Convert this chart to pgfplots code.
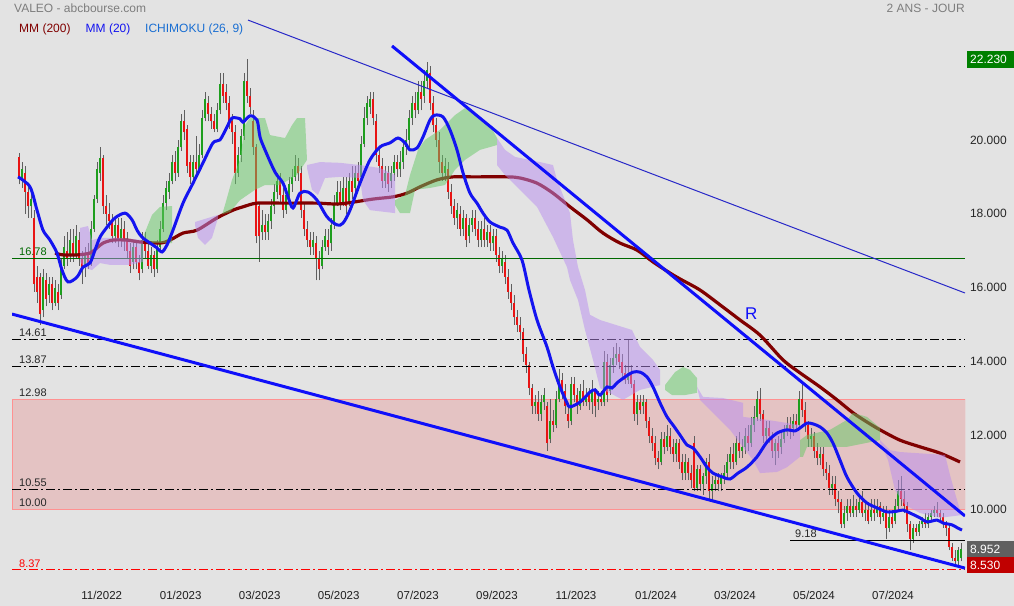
\documentclass[border=0pt]{standalone}
\usepackage{pgfplots}
\pgfplotsset{compat=1.18}
\usepackage{pgfplotstable}
\usepackage{fontspec}
\setmainfont{Liberation Sans}

\definecolor{bg}{RGB}{227,227,227}
\definecolor{cgreen}{RGB}{30,158,30}
\definecolor{cred}{RGB}{232,20,20}
\definecolor{wick}{RGB}{95,95,95}
\definecolor{mmlong}{RGB}{128,0,0}
\definecolor{mmshort}{RGB}{20,20,240}
\definecolor{trend}{RGB}{15,15,250}
\definecolor{thinblue}{RGB}{40,40,200}
\definecolor{kumo1}{RGB}{100,200,100}
\definecolor{kumo2}{RGB}{185,140,240}
\definecolor{zone}{RGB}{230,165,165}
\definecolor{zoneedge}{RGB}{255,145,145}
\definecolor{lvlgreen}{RGB}{0,105,0}
\definecolor{txtgray}{RGB}{125,125,125}
\definecolor{ichi}{RGB}{25,110,210}
\definecolor{boxgreen}{RGB}{0,128,0}
\definecolor{boxgray}{RGB}{96,96,96}
\definecolor{boxred}{RGB}{192,0,0}

\newcommand\fs[1]{\fontsize{#1bp}{#1bp}\selectfont}

% daily candles, x = position along the time axis
\pgfplotstableread{
x o h l c
19 19.55 19.65 18.80 18.95
22 18.90 19.40 18.70 19.20
25 19.10 19.30 18.00 18.60
28 18.60 18.80 17.90 18.20
31 18.20 18.60 17.90 18.40
34 17.90 18.10 15.90 16.10
37 16.30 16.60 15.60 15.90
40 16.30 16.40 15.00 15.30
43 15.40 16.50 15.20 16.30
46 16.20 16.40 15.50 15.70
49 15.80 16.30 15.60 16.10
52 16.10 16.30 15.40 15.60
55 15.60 16.20 15.50 16.00
58 15.90 16.10 15.40 15.60
61 15.80 16.80 15.70 16.60
64 16.60 17.40 16.50 17.10
67 17.00 17.50 16.60 16.80
70 16.90 17.60 16.70 17.30
73 17.20 17.60 16.70 16.90
76 16.90 17.70 16.80 17.40
79 17.30 17.50 16.60 16.80
82 16.80 17.00 16.10 16.50
85 16.60 17.10 16.30 16.90
88 16.90 17.20 16.50 16.60
91 16.70 17.80 16.60 17.60
94 17.60 18.50 17.50 18.40
97 18.40 19.40 18.30 19.20
100 19.10 19.80 18.90 19.50
103 19.50 19.60 18.00 18.20
106 18.20 18.50 17.70 18.00
109 18.00 18.30 17.60 17.80
112 17.80 18.00 17.20 17.40
115 17.40 17.90 17.20 17.70
118 17.70 17.90 17.10 17.30
121 17.30 17.90 17.10 17.60
124 17.60 17.80 17.00 17.30
127 17.30 17.50 16.80 17.00
130 17.00 17.20 16.40 16.60
133 16.70 17.30 16.50 17.10
136 17.10 17.20 16.50 16.70
139 16.70 16.90 16.20 16.40
142 16.50 17.50 16.40 17.30
145 17.30 17.50 16.80 17.00
148 17.00 17.20 16.50 16.60
151 16.60 17.10 16.40 16.90
154 16.90 17.00 16.30 16.50
157 16.50 17.30 16.40 17.10
160 17.10 17.80 17.00 17.60
163 17.60 18.50 17.50 18.30
166 18.30 18.90 18.10 18.70
169 18.60 19.10 18.40 18.90
172 18.90 19.60 18.80 19.40
175 19.40 19.70 18.90 19.10
178 19.10 20.00 19.00 19.80
181 19.80 20.70 19.70 20.50
184 20.50 20.80 20.00 20.20
187 20.30 20.40 19.10 19.30
190 19.40 19.60 18.80 19.00
193 19.00 19.60 18.90 19.40
196 19.40 20.10 19.00 19.20
199 19.20 19.90 19.10 19.60
202 19.60 20.80 19.50 20.60
205 20.60 21.30 20.50 21.10
208 21.00 21.20 20.50 20.70
211 20.70 20.90 20.30 20.50
214 20.50 20.70 20.20 20.30
217 20.30 21.00 20.20 20.80
220 20.80 21.80 20.70 21.50
223 21.50 21.80 21.00 21.20
226 21.30 21.50 20.80 21.00
229 21.00 21.20 20.30 20.50
232 20.50 20.70 19.90 20.20
235 20.20 20.40 18.80 19.10
238 19.10 19.80 19.00 19.60
241 19.60 20.30 19.40 20.10
244 20.10 21.80 20.00 21.60
247 21.60 22.20 21.00 21.20
250 21.20 21.40 20.70 20.90
253 20.50 20.80 19.60 19.80
256 19.80 19.90 17.20 17.40
259 18.20 18.30 16.70 17.40
262 17.50 18.10 17.30 17.70
265 17.70 18.00 17.30 17.50
268 17.50 18.00 17.30 17.80
271 17.80 18.40 17.60 18.20
274 18.20 18.80 18.00 18.60
277 18.60 19.10 18.40 18.90
280 18.90 19.10 18.30 18.50
283 18.50 18.70 17.90 18.10
286 18.10 18.70 18.00 18.50
289 18.50 19.00 18.30 18.80
292 18.80 19.20 18.60 19.00
295 19.00 19.60 18.90 19.30
298 19.30 19.50 18.90 19.10
301 19.10 19.30 17.90 18.10
304 18.10 18.30 17.40 17.60
307 17.60 17.80 17.10 17.30
310 17.30 17.50 16.90 17.10
313 17.10 17.50 16.90 17.30
316 17.20 17.40 16.20 16.80
319 16.80 17.00 16.20 16.50
322 16.60 17.30 16.50 17.10
325 17.10 17.60 17.00 17.40
328 17.30 17.60 16.90 17.10
331 17.20 17.90 17.00 17.70
334 17.70 18.50 17.60 18.30
337 18.30 18.90 18.20 18.60
340 18.60 18.90 18.10 18.30
343 18.30 19.00 18.20 18.70
346 18.70 19.00 18.00 18.20
349 18.30 19.10 18.20 18.90
352 18.90 19.30 18.40 18.60
355 18.70 19.30 18.50 19.10
358 19.10 19.40 18.70 18.90
361 19.00 20.10 18.90 19.90
364 19.90 20.90 19.80 20.60
367 20.60 21.20 20.40 21.00
370 20.90 21.30 20.70 21.10
373 21.10 21.30 20.40 20.60
376 20.50 20.70 19.40 19.60
379 19.60 19.80 19.10 19.30
382 19.30 19.50 18.70 18.90
385 18.90 19.30 18.70 19.10
388 19.10 19.30 18.60 18.80
391 18.90 19.30 18.70 19.10
394 19.10 19.60 18.90 19.40
397 19.40 19.60 19.00 19.20
400 19.20 19.70 19.00 19.40
403 19.40 20.00 19.20 19.80
406 19.80 20.30 19.60 20.00
409 20.00 20.80 19.80 20.60
412 20.60 21.20 20.40 21.00
415 21.00 21.30 20.60 20.80
418 20.80 21.60 20.70 21.30
421 21.30 21.60 20.80 21.10
424 21.20 21.90 21.00 21.60
427 21.60 22.10 21.40 21.90
430 21.80 22.00 20.80 21.00
433 21.00 21.20 20.20 20.40
436 20.40 20.60 19.80 20.00
439 20.00 20.20 19.10 19.40
442 19.40 19.60 18.90 19.10
445 19.10 19.50 18.90 19.30
448 19.20 19.40 18.40 18.60
451 18.60 18.80 18.00 18.20
454 18.20 18.40 17.70 17.90
457 17.90 18.30 17.60 18.10
460 18.00 18.20 17.40 17.60
463 17.60 18.10 17.40 17.90
466 17.90 18.00 17.10 17.30
469 17.40 17.90 17.20 17.70
472 17.70 18.10 17.50 17.90
475 17.90 18.10 17.40 17.60
478 17.60 17.80 17.10 17.30
481 17.30 17.80 17.10 17.60
484 17.60 17.90 17.10 17.30
487 17.30 17.70 17.10 17.50
490 17.50 17.70 17.00 17.20
493 17.20 17.60 17.00 17.40
496 17.40 17.60 16.70 16.90
499 16.90 17.10 16.40 16.60
502 16.60 17.00 16.40 16.80
505 16.70 16.90 16.10 16.30
508 16.30 16.50 15.70 15.90
511 15.90 16.10 15.40 15.60
514 15.60 15.80 15.00 15.20
517 15.20 15.40 14.80 15.00
520 15.00 15.20 14.60 14.80
523 14.80 14.90 14.00 14.20
526 14.20 14.40 13.70 13.90
529 13.90 14.00 13.10 13.30
532 13.30 13.40 12.60 12.80
535 12.80 13.10 12.60 12.90
538 12.90 13.20 12.40 12.60
541 12.60 13.10 12.40 12.90
544 12.90 13.30 12.70 13.10
547 12.80 12.90 11.60 11.80
550 11.90 13.00 11.80 12.40
553 12.40 12.70 12.10 12.30
556 12.30 13.20 12.20 13.00
559 13.00 13.80 12.90 13.50
562 13.50 13.70 13.00 13.20
565 13.20 13.40 12.60 12.80
568 12.60 12.80 12.20 12.40
571 12.40 13.60 12.30 13.40
574 13.40 13.60 12.90 13.10
577 13.10 13.30 12.60 12.80
580 12.80 13.40 12.70 13.20
583 13.20 13.50 12.80 12.90
586 12.90 13.30 12.80 13.10
589 13.10 13.30 12.70 12.90
592 12.90 13.50 12.60 13.20
595 13.20 13.30 12.50 12.80
598 12.90 13.20 12.70 13.00
601 13.00 13.20 12.80 12.90
604 12.90 14.30 12.80 14.00
607 14.00 14.20 12.90 13.10
610 13.20 14.10 13.10 13.90
613 13.90 14.40 13.70 14.10
616 14.10 14.50 13.90 14.20
619 14.20 14.40 13.80 14.00
622 14.00 14.20 13.50 13.70
625 13.70 13.90 13.40 13.50
628 13.50 14.60 13.40 13.70
631 13.70 13.90 13.30 13.40
634 13.40 13.50 12.40 12.60
637 12.60 13.10 12.30 12.90
640 12.90 13.10 12.60 12.70
643 12.80 13.10 12.60 12.90
646 12.90 13.00 12.20 12.40
649 12.40 12.50 11.80 12.00
652 12.00 12.20 11.60 11.80
655 11.80 12.00 11.20 11.40
658 11.40 11.60 11.10 11.30
661 11.30 12.10 11.20 11.90
664 11.90 12.10 11.50 11.70
667 11.70 12.30 11.60 12.00
670 12.00 12.20 11.50 11.70
673 11.70 11.90 11.30 11.50
676 11.50 11.90 11.30 11.80
679 11.80 11.90 11.10 11.30
682 11.30 11.50 10.80 11.00
685 11.00 11.50 10.80 11.30
688 11.30 11.40 10.80 11.00
691 11.00 11.20 10.60 10.80
694 11.80 12.00 10.50 10.60
697 10.60 11.20 10.50 11.10
700 11.10 11.20 10.50 10.70
703 10.70 11.00 10.40 10.90
706 10.90 11.40 10.70 11.30
709 11.30 11.50 10.30 10.50
712 10.50 10.90 10.20 10.70
715 10.70 10.90 10.50 10.80
718 10.80 11.00 10.50 10.70
721 10.70 11.00 10.50 10.90
724 10.90 11.20 10.70 11.00
727 11.00 11.50 10.80 11.30
730 11.30 11.70 11.10 11.50
733 11.50 11.80 11.10 11.30
736 11.30 12.00 11.20 11.80
739 11.80 12.10 11.40 11.60
742 11.60 11.90 11.40 11.70
745 11.70 12.20 11.50 12.00
748 12.00 12.30 11.60 11.80
751 11.80 12.50 11.70 12.30
754 12.30 12.80 12.10 12.50
757 12.50 13.20 12.40 13.00
760 13.00 13.30 12.40 12.60
763 12.60 12.70 11.80 12.00
766 12.00 12.40 11.80 12.20
769 12.20 12.40 11.80 12.00
772 12.00 12.10 11.40 11.60
775 11.60 11.90 11.20 11.80
778 11.80 12.00 11.40 11.60
781 11.70 12.10 11.50 11.90
784 11.90 12.30 11.80 12.10
787 12.10 12.50 12.00 12.30
790 12.30 12.50 11.90 12.10
793 12.20 12.60 12.00 12.40
796 12.40 12.60 12.10 12.30
799 12.30 13.20 12.20 13.00
802 13.00 13.40 12.50 12.70
805 12.70 12.90 12.10 12.30
808 12.30 12.40 11.70 11.90
811 11.90 12.20 11.70 12.00
814 12.00 12.10 11.40 11.60
817 11.60 11.80 11.20 11.40
820 11.40 11.70 11.20 11.50
823 11.50 11.70 10.90 11.10
826 11.10 11.30 10.80 11.00
829 11.00 11.20 10.40 10.60
832 10.60 10.90 10.40 10.70
835 10.70 10.90 10.10 10.30
838 10.30 10.50 9.90 10.20
841 10.20 10.30 9.50 9.60
844 9.60 10.10 9.50 9.90
847 9.90 10.30 9.70 10.10
850 10.10 10.30 9.80 9.90
853 9.90 10.40 9.80 10.10
856 10.10 10.30 9.80 10.00
859 10.00 10.40 9.90 10.20
862 10.20 10.50 9.80 9.90
865 9.90 10.20 9.70 10.00
868 10.00 10.20 9.60 9.70
871 9.80 10.30 9.70 10.00
874 10.00 10.30 9.70 9.90
877 9.90 10.30 9.80 10.10
880 10.10 10.20 9.60 9.80
883 9.80 10.10 9.70 9.90
886 9.90 10.10 9.20 9.50
889 9.50 10.00 9.40 9.80
892 9.80 10.00 9.50 9.60
895 9.70 10.30 9.60 10.10
898 10.10 10.80 10.00 10.50
901 10.50 10.90 10.10 10.30
904 10.30 10.50 9.90 10.10
907 10.10 10.20 9.40 9.60
910 9.60 9.70 8.90 9.20
913 9.20 9.60 9.10 9.50
916 9.50 9.60 9.30 9.40
919 9.40 9.70 9.30 9.60
922 9.60 9.80 9.50 9.70
925 9.70 9.90 9.50 9.60
928 9.60 9.90 9.50 9.80
931 9.80 10.00 9.70 9.90
934 9.90 10.10 9.80 10.00
937 10.00 10.20 9.80 9.90
940 9.90 10.00 9.70 9.80
943 9.80 9.90 9.50 9.60
946 9.60 9.70 9.30 9.50
949 9.50 9.60 8.90 9.00
952 9.00 9.10 8.60 8.70
955 8.70 8.90 8.50 8.60
958 8.60 9.00 8.50 8.90
961 8.70 9.10 8.60 8.95
}\candles

\begin{document}
\begin{tikzpicture}
\fill[bg] (0,0) rectangle (1014bp,606bp);
\path[use as bounding box] (0,0) rectangle (1014bp,606bp);
\begin{axis}[
    at={(12bp,23bp)}, anchor=south west,
    scale only axis, width=953bp, height=583bp,
    xmin=12, xmax=965, ymin=8.018, ymax=23.783,
    axis line style={draw=none},
    major tick style={draw=none},
    xtick={101.7,180.7,259.7,338.7,418,497,576,656,735,814,893},
    xticklabels={11/2022,01/2023,03/2023,05/2023,07/2023,09/2023,11/2023,01/2024,03/2024,05/2024,07/2024},
    x tick label style={font=\fs{11.5}, text=black!88, yshift=-4.5bp},
    ytick={8,10,12,14,16,18,20},
    yticklabel pos=right,
    y tick label style={font=\fs{12}, text=black!85, anchor=west, xshift=1.5bp},
    /pgf/number format/.cd, fixed, fixed zerofill, precision=3, 1000 sep={}, assume math mode=true,
]

% support / resistance zone
\addplot[draw=zoneedge, line width=1bp, fill=zone, fill opacity=0.5]
  coordinates {(12,10) (965,10) (965,12.98) (12,12.98)} -- cycle;

% candles: wicks, then rising and falling bodies
\addplot[forget plot, draw=none, mark=none,
  error bars/.cd, y dir=plus, y explicit, error mark=none,
  error bar style={draw=wick, line width=0.9bp}]
  table[x=x, y=l, y error plus expr=\thisrow{h}-\thisrow{l}] {\candles};
\addplot[forget plot, draw=none, mark=none,
  restrict expr to domain={\thisrow{c}-\thisrow{o}}{0:100},
  error bars/.cd, y dir=plus, y explicit, error mark=none,
  error bar style={draw=cgreen, line width=2.5bp}]
  table[x=x, y=o, y error plus expr=\thisrow{c}-\thisrow{o}] {\candles};
\addplot[forget plot, draw=none, mark=none,
  restrict expr to domain={\thisrow{o}-\thisrow{c}}{0.001:100},
  error bars/.cd, y dir=plus, y explicit, error mark=none,
  error bar style={draw=cred, line width=2.5bp}]
  table[x=x, y=c, y error plus expr=\thisrow{o}-\thisrow{c}] {\candles};

% horizontal levels
\addplot[lvlgreen, line width=1bp] coordinates {(12,16.78) (965,16.78)};
\addplot[black, line width=1bp, dash pattern=on 9bp off 3bp on 2bp off 3bp] coordinates {(12,14.61) (965,14.61)};
\addplot[black, line width=1bp, dash pattern=on 9bp off 3bp on 2bp off 3bp] coordinates {(12,13.87) (965,13.87)};
\addplot[black, line width=1bp, dash pattern=on 9bp off 3bp on 2bp off 3bp] coordinates {(12,10.55) (965,10.55)};
\addplot[red, line width=1bp, dash pattern=on 9bp off 3bp on 2bp off 3bp] coordinates {(12,8.37) (965,8.37)};
\addplot[black, line width=1bp] coordinates {(790,9.18) (965,9.18)};

% MM 200
\addplot[mmlong, line width=3.2bp, smooth] coordinates {
(55,16.94)(63,16.89)(77,16.89)(90,16.94)(97,17.08)(103,17.21)(113,17.29)(127,17.29)
(140,17.24)(160,17.21)(170,17.29)(183,17.48)(197,17.56)(217,17.89)(233,18.10)(243,18.19)
(257,18.29)(283,18.29)(317,18.29)(340,18.27)(373,18.40)(393,18.46)(407,18.56)(420,18.73)
(437,18.92)(453,19.00)(473,19.00)(507,19.00)(520,18.97)(537,18.83)(553,18.56)(570,18.19)
(587,17.84)(603,17.48)(620,17.21)(637,17.02)(653,16.70)(670,16.40)(680,16.24)(700,15.94)
(720,15.54)(740,15.13)(760,14.72)(783,14.05)(800,13.70)(820,13.32)(837,12.97)(853,12.62)
(867,12.37)(880,12.16)(900,11.88)(920,11.70)(940,11.53)(960,11.29)};

% Ichimoku cloud
\addplot[draw=none, fill=kumo2, fill opacity=0.5] coordinates {
(80,17.62)(88,17.67)(92,17.29)(100,17.35)(120,17.35)(143,17.29)(143,16.70)(130,16.62)
(110,16.62)(100,16.67)(92,16.48)(85,16.54)(80,16.70)} -- cycle;
\addplot[draw=none, fill=kumo1, fill opacity=0.5] coordinates {
(143,17.37)(152,17.97)(160,18.19)(172,18.21)(172,17.21)(150,17.21)(143,17.29)} -- cycle;
\addplot[draw=none, fill=kumo2, fill opacity=0.5] coordinates {
(195,17.78)(218,17.97)(218,17.89)(212,17.35)(205,17.16)(198,17.35)(195,17.70)} -- cycle;
\addplot[draw=none, fill=kumo1, fill opacity=0.5] coordinates {
(222,17.97)(225,18.24)(232,18.92)(240,19.46)(245,20.40)(250,20.59)(265,20.59)(270,20.13)
(285,20.05)(292,20.40)(297,20.59)(305,20.59)(307,19.46)(297,19.05)(280,18.78)(265,18.78)
(255,18.65)(240,18.37)(230,18.05)(222,17.99)} -- cycle;
\addplot[draw=none, fill=kumo2, fill opacity=0.5] coordinates {
(307,19.32)(320,19.40)(340,19.38)(360,19.32)(380,19.24)(395,19.05)(395,18.02)(370,18.10)
(363,18.37)(360,18.97)(340,19.00)(325,18.97)(318,18.51)(312,18.65)(307,19.24)} -- cycle;
\addplot[draw=none, fill=kumo1, fill opacity=0.5] coordinates {
(395,18.37)(405,18.51)(410,19.05)(418,19.73)(425,20.00)(440,20.27)(455,20.67)(465,20.86)
(478,20.67)(490,20.40)(497,20.05)(497,19.86)(480,19.73)(465,19.46)(455,19.19)(445,18.78)
(430,18.70)(415,18.65)(410,18.02)(400,18.02)(395,18.24)} -- cycle;
\addplot[draw=none, fill=kumo2, fill opacity=0.5] coordinates {
(497,20.05)(505,19.73)(515,19.54)(540,19.40)(553,19.32)(557,18.92)(565,18.37)(570,18.02)
(573,17.29)(578,16.56)(585,15.94)(590,15.27)(600,15.13)(632,14.86)(640,14.40)(653,14.05)
(660,13.78)(660,13.37)(640,13.24)(623,12.97)(600,13.29)(593,14.05)(585,14.86)(578,15.67)
(570,16.21)(567,16.56)(553,17.37)(537,18.19)(520,18.65)(505,19.05)(497,19.32)} -- cycle;
\addplot[draw=none, fill=kumo1, fill opacity=0.5] coordinates {
(665,13.37)(675,13.72)(683,13.86)(690,13.78)(697,13.56)(697,13.16)(685,13.10)(672,13.10)
(665,13.24)} -- cycle;
\addplot[draw=none, fill=kumo2, fill opacity=0.5] coordinates {
(697,13.32)(703,13.05)(723,13.02)(743,12.89)(743,12.51)(767,12.43)(800,12.29)(800,11.43)
(787,11.15)(777,11.02)(760,10.99)(753,11.34)(740,11.80)(730,12.16)(713,12.62)(700,12.97)} -- cycle;
\addplot[draw=none, fill=kumo1, fill opacity=0.5] coordinates {
(800,11.88)(807,12.02)(830,12.16)(847,12.43)(853,12.62)(867,12.51)(880,12.21)(880,11.88)
(847,11.70)(807,11.70)(803,11.43)(800,11.43)} -- cycle;
\addplot[draw=none, fill=kumo2, fill opacity=0.5] coordinates {
(880,11.88)(890,11.61)(900,11.56)(945,11.48)(950,10.94)(955,10.45)(960,9.99)(963,9.86)
(940,9.78)(920,9.91)(905,10.13)(895,10.53)(888,11.34)(880,11.83)} -- cycle;

% MM 20
\addplot[mmshort, line width=3bp, smooth] coordinates {
(18,19.00)(30,18.73)(37,18.10)(43,17.56)(50,17.29)(57,16.94)(62,16.48)(68,16.16)(77,16.29)
(83,16.56)(90,16.67)(95,17.02)(100,17.37)(107,17.64)(115,17.89)(125,18.02)(132,17.84)
(137,17.56)(142,17.37)(150,17.21)(157,17.08)(162,16.97)(167,17.16)(173,17.56)(183,18.29)
(193,18.83)(203,19.38)(213,19.92)(220,20.00)(227,20.35)(232,20.59)(240,20.57)(243,20.48)
(250,20.65)(257,20.54)(260,20.08)(265,19.73)(275,19.13)(283,18.83)(288,18.46)(293,18.16)
(300,18.56)(308,18.59)(317,18.37)(327,17.92)(337,17.70)(343,17.75)(350,18.10)(360,18.83)
(370,19.46)(380,19.81)(390,19.92)(398,20.05)(405,19.92)(410,19.73)(417,19.78)(423,20.08)
(430,20.54)(435,20.67)(443,20.62)(450,20.27)(457,19.73)(463,19.11)(470,18.56)(477,18.29)
(483,18.02)(490,17.78)(500,17.64)(507,17.56)(513,17.21)(522,16.75)(529,15.94)(537,15.13)
(547,14.40)(553,13.86)(560,13.32)(567,12.89)(570,12.78)(580,12.91)(590,13.18)(595,13.24)
(600,13.10)(607,13.32)(612,13.29)(617,13.43)(625,13.59)(633,13.72)(640,13.72)(647,13.59)
(653,13.32)(660,12.89)(667,12.51)(673,12.29)(680,12.02)(687,11.75)(693,11.67)(700,11.43)
(707,11.15)(713,10.99)(723,10.88)(730,10.83)(738,10.99)(747,11.15)(757,11.43)(767,11.83)
(777,12.07)(787,12.16)(795,12.13)(800,12.21)(807,12.34)(813,12.32)(820,12.24)(827,12.07)
(833,11.80)(840,11.34)(847,10.88)(857,10.45)(867,10.18)(877,10.05)(887,9.94)(897,9.96)
(903,9.99)(910,9.91)(920,9.78)(927,9.67)(937,9.72)(943,9.64)(952,9.59)(958,9.50)(962,9.45)};

% trend lines
\addplot[thinblue, line width=1bp] coordinates {(248,23.24) (965,15.86)};
\addplot[trend, line width=3bp] coordinates {(392,22.54) (965,9.83)};
\addplot[trend, line width=3bp] coordinates {(12,15.29) (965,8.42)};

% level labels
\node[anchor=base west, inner sep=0, text=lvlgreen, font=\fs{11}, yshift=3bp] at (axis cs:19,16.78) {16.78};
\node[anchor=base west, inner sep=0, text=black!85, font=\fs{11}, yshift=3bp] at (axis cs:19,14.61) {14.61};
\node[anchor=base west, inner sep=0, text=black!85, font=\fs{11}, yshift=3bp] at (axis cs:19,13.87) {13.87};
\node[anchor=base west, inner sep=0, text=black!85, font=\fs{11}, yshift=3bp] at (axis cs:19,12.98) {12.98};
\node[anchor=base west, inner sep=0, text=black!85, font=\fs{11}, yshift=3bp] at (axis cs:19,10.55) {10.55};
\node[anchor=base west, inner sep=0, text=black!85, font=\fs{11}, yshift=3bp] at (axis cs:19,10) {10.00};
\node[anchor=base west, inner sep=0, text=red, font=\fs{11}, yshift=2bp] at (axis cs:19,8.37) {8.37};
\node[anchor=base west, inner sep=0, text=black!85, font=\fs{11}, yshift=3bp] at (axis cs:795,9.18) {9.18};
\node[anchor=base west, inner sep=0, text=trend, font=\fs{17}] at (axis cs:745,15.13) {R};
\end{axis}

% hide the clipped part of the lowest price label
\fill[bg] (965bp,0) rectangle (1014bp,24bp);

% header and legend
\node[anchor=base west, inner sep=0, text=txtgray, font=\fs{12}] at (14bp,593bp) {VALEO - abcbourse.com};
\node[anchor=base west, inner sep=0, text=txtgray, font=\fs{12}] at (886.5bp,593bp) {2 ANS - JOUR};
\node[anchor=base west, inner sep=0, text=mmlong, font=\fs{12}] at (19bp,573bp) {MM (200)};
\node[anchor=base west, inner sep=0, text=mmshort, font=\fs{12}] at (85.5bp,573bp) {MM (20)};
\node[anchor=base west, inner sep=0, text=ichi, font=\fs{12}] at (145bp,573bp) {ICHIMOKU (26, 9)};

% price tags on the right
\fill[boxgreen] (967bp,538bp) rectangle (1014bp,555bp);
\node[anchor=west, inner sep=0, text=white, font=\fs{12}] at (970bp,546.5bp) {22.230};
\fill[boxgray] (967bp,49bp) rectangle (1014bp,65bp);
\node[anchor=west, inner sep=0, text=white, font=\fs{12}] at (970bp,57bp) {8.952};
\fill[boxred] (967bp,33bp) rectangle (1014bp,49bp);
\node[anchor=west, inner sep=0, text=white, font=\fs{12}] at (970bp,41bp) {8.530};
\end{tikzpicture}
\end{document}
